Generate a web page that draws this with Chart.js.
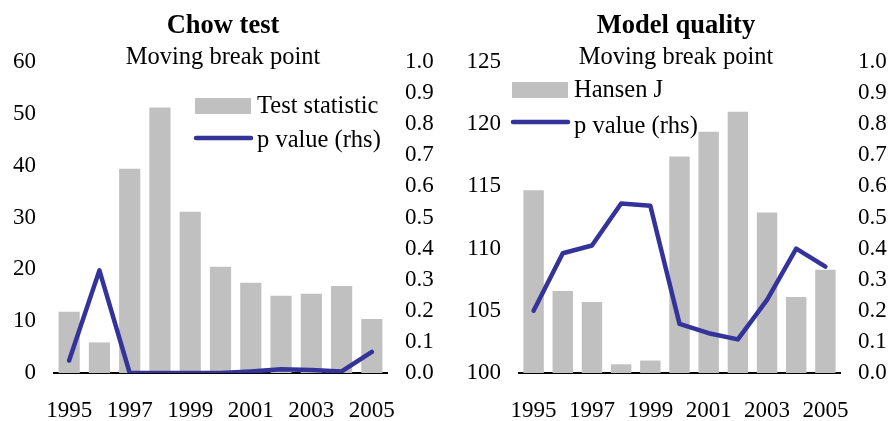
<!DOCTYPE html>
<html>
<head>
<meta charset="utf-8">
<script src="https://cdn.jsdelivr.net/npm/chart.js@4/dist/chart.umd.min.js"></script>
<style>
  html, body { margin: 0; padding: 0; background: #fff; }
  #wrap { position: relative; width: 893px; height: 421px; }
  #c1 { position: absolute; left: 0; top: 0; }
  #c2 { position: absolute; left: 446px; top: 0; }
</style>
</head>
<body>
<div id="wrap">
  <canvas id="c1" width="446" height="421"></canvas>
  <canvas id="c2" width="447" height="421"></canvas>
</div>
<script>
// ---- Data ----
const years = ['1995','1996','1997','1998','1999','2000','2001','2002','2003','2004','2005'];

const chowStat = [11.8, 5.9, 39.4, 51.2, 31.1, 20.5, 17.4, 14.9, 15.3, 16.8, 10.4];
const chowP    = [0.04, 0.33, 0.0, 0.0, 0.0, 0.0, 0.005, 0.012, 0.01, 0.005, 0.068];

const hansenJ  = [114.7, 106.6, 105.7, 100.7, 101.0, 117.4, 119.4, 121.0, 112.9, 106.1, 108.3];
const hansenP  = [0.20, 0.385, 0.41, 0.545, 0.538, 0.158, 0.128, 0.108, 0.235, 0.40, 0.342];

const titles    = ['Chow test', 'Model quality'];
const subtitle  = 'Moving break point';
const barLabels = ['Test statistic', 'Hansen J'];
const lineLabel = 'p value (rhs)';

const leftAxis1 = { min: 0, max: 60, step: 10 };
const leftAxis2 = { min: 100, max: 125, step: 5 };
const rightAxis = { min: 0, max: 1, step: 0.1 };

// ---- Styles ----
const FONT = '"Liberation Serif", "Times New Roman", serif';
const BAR_COLOR = '#C0C0C0';
const LINE_COLOR = '#333399';

// custom title + legend plugin
const decorPlugin = {
  id: 'decor',
  afterDraw(chart, args, opts) {
    const ctx = chart.ctx;
    ctx.save();
    ctx.fillStyle = '#000';
    ctx.textAlign = 'center';
    ctx.textBaseline = 'alphabetic';
    ctx.font = 'bold 26.5px ' + FONT;
    ctx.fillText(opts.title, opts.titleX, 33);
    ctx.font = '24.5px ' + FONT;
    ctx.fillText(opts.subtitle, opts.titleX, 64);
    // legend
    const lx = opts.legendX, ly = opts.legendY;
    ctx.fillStyle = BAR_COLOR;
    ctx.fillRect(lx, ly, 56, 16);
    ctx.fillStyle = '#000';
    ctx.textAlign = 'left';
    ctx.font = '24.5px ' + FONT;
    ctx.fillText(opts.barLabel, lx + 62, ly + 15);
    ctx.strokeStyle = LINE_COLOR;
    ctx.lineWidth = 4.5;
    ctx.lineCap = 'round';
    ctx.beginPath();
    ctx.moveTo(lx + 1, ly + 40);
    ctx.lineTo(lx + 56, ly + 40);
    ctx.stroke();
    ctx.fillText(opts.lineLabel, lx + 62, ly + opts.lineTextDy);
    ctx.restore();
  }
};

function makeChart(canvasId, barData, lineData, leftAx, cfg) {
  return new Chart(document.getElementById(canvasId), {
    data: {
      labels: years,
      datasets: [
        {
          type: 'line', data: lineData, yAxisID: 'y1', order: 0,
          borderColor: LINE_COLOR, borderWidth: 4.5, pointRadius: 0,
          tension: 0, borderCapStyle: 'round', borderJoinStyle: 'round',
          fill: false
        },
        {
          type: 'bar', data: barData, yAxisID: 'y', order: 1,
          backgroundColor: BAR_COLOR, barPercentage: 0.7, categoryPercentage: 1.0,
          base: leftAx.min
        }
      ]
    },
    options: {
      responsive: false,
      animation: false,
      layout: { padding: { top: 62, bottom: 0, left: 0, right: 0 } },
      plugins: {
        legend: { display: false },
        tooltip: { enabled: false },
        title: { display: false },
        decor: cfg.decor
      },
      scales: {
        x: {
          type: 'category',
          grid: { display: false, drawTicks: false },
          border: { display: true, color: '#000', width: 2 },
          ticks: {
            color: '#000', font: { family: FONT, size: 23 },
            autoSkip: false, maxRotation: 0, minRotation: 0, padding: 24,
            callback: function (v, i) { return i % 2 === 0 ? this.getLabelForValue(v) : ''; }
          },
          afterFit: (s) => { s.height = 48; }
        },
        y: {
          position: 'left', min: leftAx.min, max: leftAx.max,
          grid: { display: false, drawTicks: false },
          border: { display: false },
          ticks: { stepSize: leftAx.step, color: '#000', font: { family: FONT, size: 23 }, padding: 18 },
          afterFit: (s) => { s.width = cfg.leftW; }
        },
        y1: {
          position: 'right', min: rightAxis.min, max: rightAxis.max,
          grid: { display: false, drawTicks: false },
          border: { display: false },
          ticks: {
            stepSize: rightAxis.step, color: '#000', font: { family: FONT, size: 23 }, padding: 18,
            callback: (v) => Number(v).toFixed(1)
          },
          afterFit: (s) => { s.width = cfg.rightW; }
        }
      }
    },
    plugins: [decorPlugin]
  });
}

makeChart('c1', chowStat, chowP, leftAxis1, {
  leftW: 54, rightW: 59,
  decor: { title: titles[0], subtitle: subtitle, titleX: 223, legendX: 195, legendY: 98,
           barLabel: barLabels[0], lineLabel: lineLabel, lineTextDy: 49 }
});
makeChart('c2', hansenJ, hansenP, leftAxis2, {
  leftW: 73, rightW: 53,
  decor: { title: titles[1], subtitle: subtitle, titleX: 230, legendX: 66, legendY: 82,
           barLabel: barLabels[1], lineLabel: lineLabel, lineTextDy: 51 }
});
</script>
</body>
</html>
